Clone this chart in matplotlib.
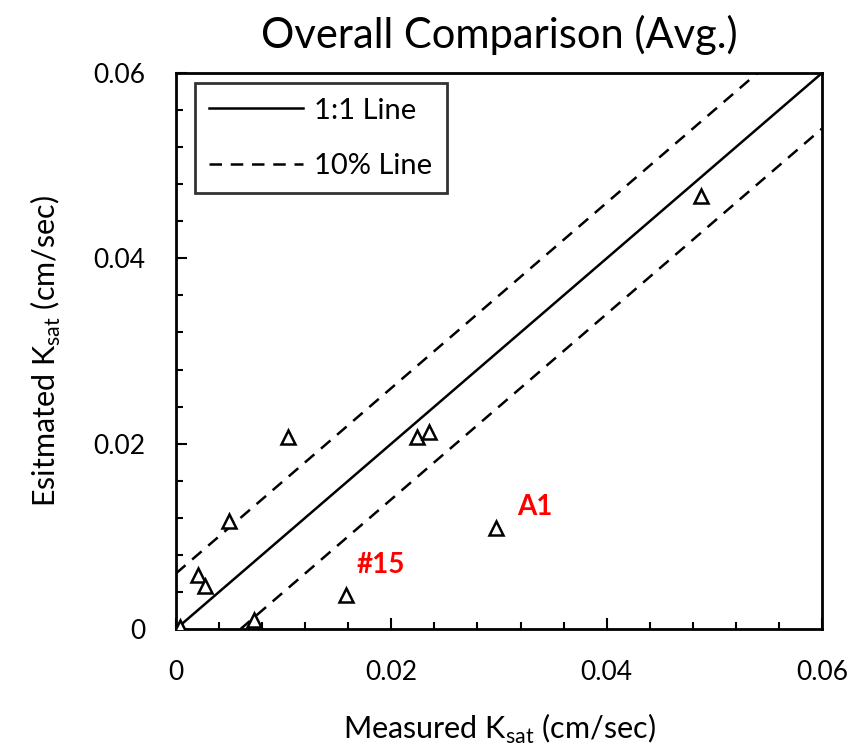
import matplotlib.pyplot as plt
import numpy as np
from matplotlib.ticker import MultipleLocator

plt.rcParams['font.family'] = ['Lato', 'DejaVu Sans']
plt.rcParams['mathtext.fontset'] = 'custom'
plt.rcParams['mathtext.rm'] = 'Lato'

# 実測値と推定値 (cm/sec)
measured = [0.0004, 0.0020, 0.0027, 0.0049, 0.0104, 0.0072, 0.0158, 0.0224, 0.0235, 0.0297, 0.0488]
estimated = [0.0002, 0.0058, 0.0046, 0.0116, 0.0207, 0.0010, 0.0037, 0.0207, 0.0213, 0.0109, 0.0467]
labels = ['#15', 'A1']
label_x = [0.0168, 0.0317]
label_y = [0.0069, 0.0132]
offset = 0.006  # 10% of 0.06
ticks = [0, 0.02, 0.04, 0.06]
ticklabels = ['0', '0.02', '0.04', '0.06']

fig = plt.figure(figsize=(8.62, 7.52), dpi=100)
ax = fig.add_axes([0.2042, 0.1636, 0.7494, 0.7393])

dash = (0, (5, 3.5))
line = np.array([0, 0.06])
ax.plot(line, line, color='black', lw=1.8, label='1:1 Line')
ax.plot(line, line + offset, color='black', lw=1.8, ls=dash, label='10% Line')
ax.plot(line, line - offset, color='black', lw=1.8, ls=dash)
ax.plot(measured, estimated, ls='none', marker='^', ms=10, mfc='white', mec='black', mew=1.8, zorder=3)

for t, x, y in zip(labels, label_x, label_y):
    ax.text(x, y, t, color='red', fontsize=20, fontweight='bold', va='center')

ax.set_xlim(0, 0.06)
ax.set_ylim(0, 0.06)
ax.set_xticks(ticks)
ax.set_yticks(ticks)
ax.set_xticklabels(ticklabels)
ax.set_yticklabels(ticklabels)
ax.xaxis.set_minor_locator(MultipleLocator(0.004))
ax.yaxis.set_minor_locator(MultipleLocator(0.004))
ax.tick_params(which='major', direction='in', length=8, width=1.5, labelsize=19, pad=22)
ax.tick_params(which='minor', direction='in', length=5, width=1.5)
for s in ax.spines.values():
    s.set_linewidth(2)

ax.set_xlabel('Measured K$_{\\mathrm{sat}}$ (cm/sec)', fontsize=22, labelpad=20)
ax.set_ylabel('Esitmated K$_{\\mathrm{sat}}$ (cm/sec)', fontsize=22, labelpad=22)
ax.set_title('Overall Comparison (Avg.)', fontsize=30, pad=18)

leg = ax.legend(loc='upper left', bbox_to_anchor=(0.029, 0.982), borderaxespad=0,
                fontsize=21, frameon=True, fancybox=False, edgecolor='black',
                handlelength=3.2, handletextpad=0.4, labelspacing=1.0, borderpad=0.5)
leg.get_frame().set_linewidth(2)

plt.savefig('out.png', dpi=100)
